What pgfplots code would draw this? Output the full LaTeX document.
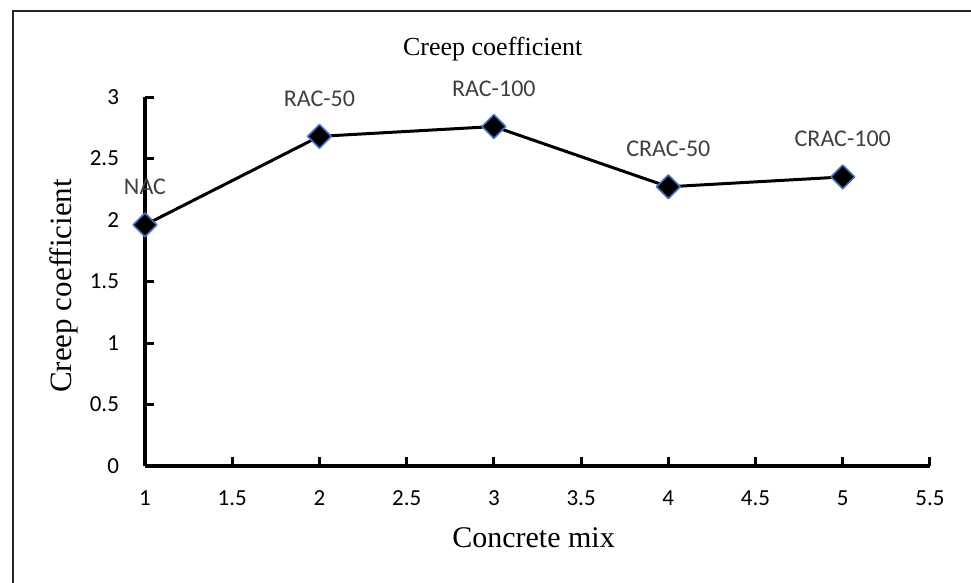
\documentclass[border=0pt]{standalone}
\usepackage{fontspec}
\setmainfont{Carlito}
\newfontfamily\serifface{Liberation Serif}
\usepackage{pgfplots}
\pgfplotsset{compat=1.18}
\usepackage{pgfplotstable}
\definecolor{markblue}{RGB}{68,114,196}
\definecolor{labelgray}{RGB}{64,64,64}

% creep coefficient of each concrete mix
\pgfplotstableread{
x y label
1 1.96 NAC
2 2.68 RAC-50
3 2.76 RAC-100
4 2.27 CRAC-50
5 2.35 CRAC-100
}\creepdata

\begin{document}
\begin{tikzpicture}
\useasboundingbox (0,0) rectangle (485.5pt,-291.5pt);
% frame around the chart area
\draw[line width=1pt, black!85] (6.5pt,-291.5pt) -- (6.5pt,-5.5pt) -- (485.5pt,-5.5pt);
\begin{axis}[
  at={(72.5pt,-233pt)}, anchor=south west,
  scale only axis, width=392.5pt, height=184.5pt,
  xmin=1, xmax=5.5, ymin=0, ymax=3,
  xtick={1,1.5,2,2.5,3,3.5,4,4.5,5,5.5},
  ytick={0,0.5,1,1.5,2,2.5,3},
  axis lines*=left,
  axis line style={line width=1.75pt},
  tick align=inside,
  major tick length=4.5pt,
  every tick/.style={black, line width=1.5pt},
  /pgf/number format/assume math mode=true,
  ticklabel style={font=\fontsize{11.5}{13}\selectfont},
  xticklabel style={yshift=-9pt},
  yticklabel style={xshift=-9.5pt},
  clip=false,
  title={Creep coefficient},
  title style={at={(axis description cs:0.443,1.098)}, anchor=center,
    font=\serifface\fontsize{13}{15}\selectfont},
  xlabel={Concrete mix},
  xlabel style={at={(axis description cs:0.495,-0.195)}, anchor=center,
    font=\serifface\fontsize{15}{17}\selectfont},
  ylabel={Creep coefficient},
  ylabel style={at={(ticklabel* cs:0.488,40.75pt)}, anchor=center,
    font=\serifface\fontsize{15.5}{17}\selectfont},
]
\addplot[black, line width=1.5pt, line join=round,
  mark=square*, mark size=4.2pt,
  mark options={rotate=45, fill=black, draw=markblue, line width=0.8pt},
  nodes near coords, point meta=explicit symbolic,
  nodes near coords style={anchor=center, yshift=19pt,
    font=\fontsize{12}{14}\selectfont, text=labelgray}]
  table[x=x, y=y, meta=label] {\creepdata};
\end{axis}
\end{tikzpicture}
\end{document}
